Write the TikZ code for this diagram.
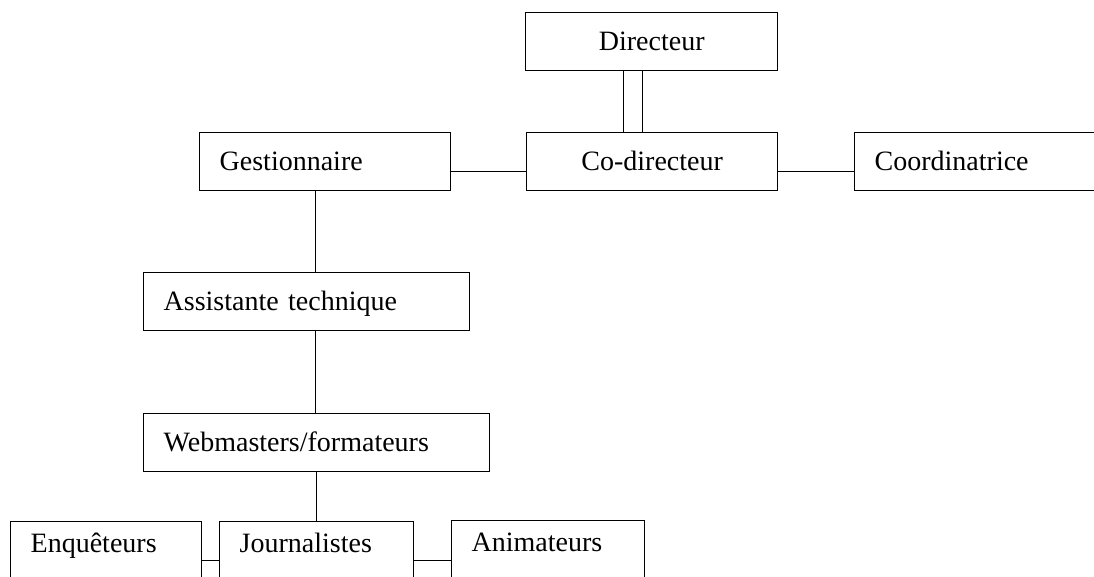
\documentclass[tikz,border=0pt]{standalone}
\usepackage{fontspec}
\setmainfont{Liberation Serif}
\usetikzlibrary{positioning}

\begin{document}
\begin{tikzpicture}[x=0.5pt,y=-0.5pt,line width=0.7pt]
  \tikzstyle{box}=[draw, anchor=north west, minimum height=29pt, inner xsep=10pt, text height=9pt, text depth=0pt, font=\fontsize{14}{16}\selectfont]
  \tikzstyle{midbox}=[box, minimum width=#1, align=center]
  \tikzstyle{leftbox}=[box, text width=#1, align=left]
  \tikzstyle{lowbox}=[leftbox=#1, text depth=7pt]
  \path[use as bounding box, clip] (0,0) rectangle (1094,577);
  \node[midbox=126pt] (dir) at (525,12) {Directeur};
  \node[midbox=125.5pt] (codir) at (526,132) {Co-directeur};
  \node[leftbox=105.5pt] (gest) at (199,132) {Gestionnaire};
  \node[leftbox=108pt] (coord) at (854,132) {Coordinatrice};
  \node[leftbox=143pt] (assist) at (143,272) {Assistante technique};
  \node[leftbox=153pt] (web) at (143,413) {Webmasters/formateurs};
  \node[lowbox=75.5pt] (enq) at (10,521) {Enquêteurs};
  \node[lowbox=77pt] (journ) at (219,521) {Journalistes};
  \node[lowbox=76.5pt] (anim) at (451,520) {Animateurs};
  \draw ([xshift=-14pt]dir.south) -- ([xshift=-14pt]dir.south |- codir.north);
  \draw ([xshift=-4.5pt]dir.south) -- ([xshift=-4.5pt]dir.south |- codir.north);
  \draw ([yshift=-5pt]gest.east) -- ([yshift=-5pt]gest.east -| codir.west);
  \draw ([yshift=-5pt]codir.east) -- ([yshift=-5pt]codir.east -| coord.west);
  \draw ([xshift=-5pt]gest.south) -- ([xshift=-5pt]gest.south |- assist.north);
  \draw ([xshift=4.5pt]assist.south) -- ([xshift=4.5pt]assist.south |- web.north);
  \draw (journ.north |- web.south) -- (journ.north);
  \draw ([yshift=-5pt]enq.east) -- ([yshift=-5pt]enq.east -| journ.west);
  \draw ([yshift=-5pt]journ.east) -- ([yshift=-5pt]journ.east -| anim.west);
\end{tikzpicture}
\end{document}
